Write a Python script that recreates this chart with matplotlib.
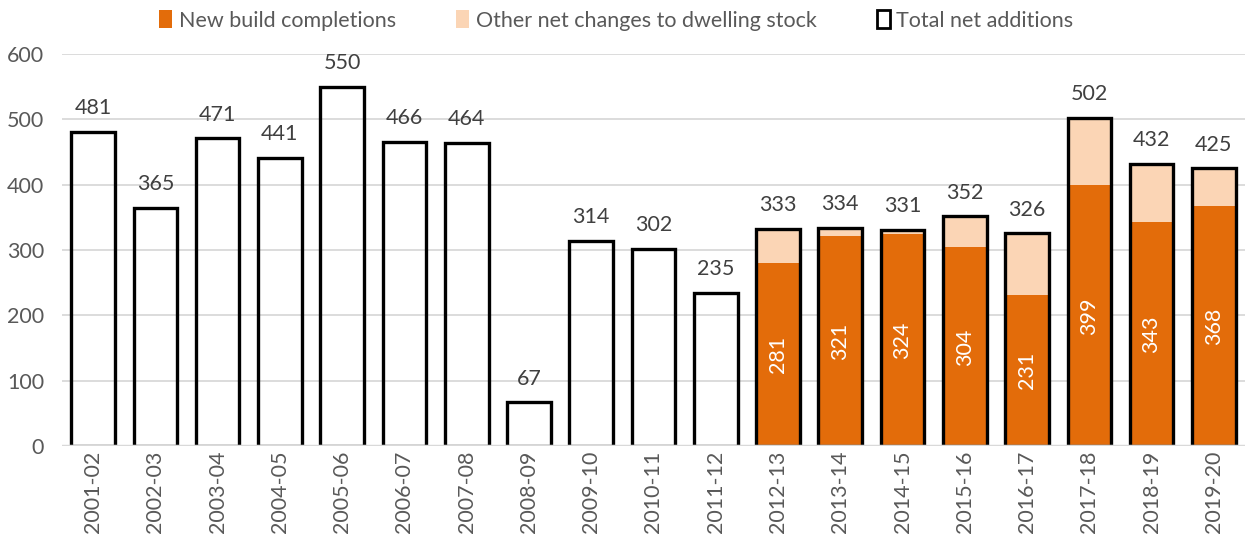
import matplotlib.pyplot as plt
from matplotlib.patches import Patch

plt.rcParams['font.family'] = ['Lato', 'DejaVu Sans']

years = ['2001-02', '2002-03', '2003-04', '2004-05', '2005-06', '2006-07',
         '2007-08', '2008-09', '2009-10', '2010-11', '2011-12', '2012-13',
         '2013-14', '2014-15', '2015-16', '2016-17', '2017-18', '2018-19',
         '2019-20']
total = [481, 365, 471, 441, 550, 466, 464, 67, 314, 302, 235, 333, 334,
         331, 352, 326, 502, 432, 425]
# new build split only available from 2012-13 onwards
new_build = [None] * 11 + [281, 321, 324, 304, 231, 399, 343, 368]

orange = '#e36c0a'
peach = '#fbd5b5'
grey_txt = '#595959'
fs = 15.5

fig, ax = plt.subplots(figsize=(12.5, 5.35), dpi=100)
fig.subplots_adjust(left=0.0496, right=0.996, bottom=0.166, top=0.899)

x = list(range(len(years)))
w = 0.7

for i in x:
    if new_build[i] is not None:
        ax.bar(i, new_build[i], w, color=orange, zorder=2)
        ax.bar(i, total[i] - new_build[i], w, bottom=new_build[i],
               color=peach, zorder=2)
        ax.text(i, new_build[i] / 2, str(new_build[i]), rotation=90,
                ha='center', va='center', color='white', fontsize=fs,
                zorder=5)

ax.bar(x, total, w, facecolor='none', edgecolor='black', linewidth=2.4,
       zorder=3)

for i, v in zip(x, total):
    ax.annotate(str(v), (i, v), xytext=(0, 17), textcoords='offset points',
                ha='center', va='center', color='#404040', fontsize=fs)

ax.axhline(0, color='#d9d9d9', linewidth=2.5, zorder=4)

ax.set_xlim(-0.5, len(years) - 0.5)
ax.set_ylim(0, 600)
ax.set_yticks(range(0, 601, 100))
ax.set_xticks(x)
ax.set_xticklabels(years, rotation=90)
ax.tick_params(axis='both', length=0, labelsize=fs, labelcolor=grey_txt)
ax.tick_params(axis='y', pad=13)
ax.tick_params(axis='x', pad=3)
ax.grid(axis='y', color='#d9d9d9', linewidth=1.3, zorder=0)
ax.set_axisbelow(True)
for s in ax.spines.values():
    s.set_visible(False)

handles = [Patch(facecolor=orange, edgecolor='none', label='New build completions'),
           Patch(facecolor=peach, edgecolor='none',
                 label='Other net changes to dwelling stock'),
           Patch(facecolor='white', edgecolor='black', linewidth=2,
                 label='Total net additions')]
fig.legend(handles=handles, loc='upper center', bbox_to_anchor=(0.493, 1.017),
           ncol=3, frameon=False, fontsize=fs, handlelength=0.6,
           handleheight=0.9, handletextpad=0.3, columnspacing=2.8,
           labelcolor=grey_txt)

fig.savefig('out.png')
